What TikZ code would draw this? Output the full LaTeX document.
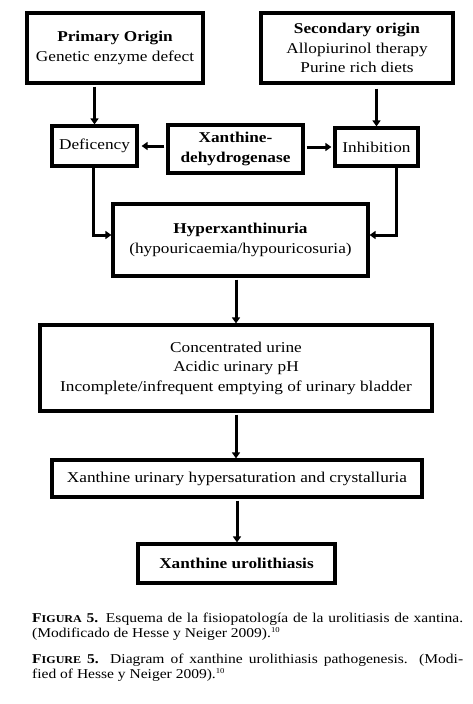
\documentclass[tikz,border=0pt]{standalone}
\usepackage{fontspec}
\setmainfont[FakeStretch=1.15]{Liberation Serif}
\usetikzlibrary{arrows.meta}
\newcommand{\refsup}{\textsuperscript{\fontsize{7.5}{8}\selectfont 10}}
\begin{document}
\begin{tikzpicture}[x=1pt,y=-1pt,
  box/.style={draw, line width=3.2pt, rectangle, inner sep=0pt, align=center,
    font=\fontsize{15}{19.5}\selectfont},
  arr/.style={line width=3pt, -{Triangle[length=6pt,width=8pt]}},
  caption/.style={anchor=north west, inner sep=0pt, text width=431pt, align=justify,
    font=\fontsize{13.5}{15}\selectfont}]
\useasboundingbox (0,0) rectangle (473,704);
\fill[white] (0,0) rectangle (473,704);

\node[box, minimum width=176pt, minimum height=70pt] (prim) at (115,48)
  {\textbf{Primary Origin}\\Genetic enzyme defect};
\node[box, minimum width=192pt, minimum height=70pt] (sec) at (357,48)
  {\textbf{Secondary origin}\\Allopiurinol therapy\\Purine rich diets};
\node[box, minimum width=85pt, minimum height=40pt] (def) at (94.5,146) {Deficency};
\node[box, minimum width=135pt, minimum height=48pt] (xdh) at (235.5,149)
  {\textbf{Xanthine-}\\\textbf{dehydrogenase}};
\node[box, minimum width=83pt, minimum height=38pt] (inh) at (376.5,147) {Inhibition};
\node[box, minimum width=255pt, minimum height=72pt] (hyp) at (240.5,240)
  {\textbf{Hyperxanthinuria}\\(hypouricaemia/hypouricosuria)};
\node[box, minimum width=392pt, minimum height=86pt] (conc) at (236,368)
  {Concentrated urine\\Acidic urinary pH\\Incomplete/infrequent emptying of urinary bladder};
\node[box, minimum width=370pt, minimum height=37pt] (xu) at (237,478.5)
  {Xanthine urinary hypersaturation and crystalluria};
\node[box, minimum width=197pt, minimum height=39pt] (xl) at (236.5,563.5)
  {\textbf{Xanthine urolithiasis}};

\draw[arr, shorten <=2pt] (def.north |- prim.south) -- (def.north);
\draw[arr, shorten <=4pt] (inh.north |- sec.south) -- (inh.north);
\draw[arr, shorten <=2pt, shorten >=3pt] (xdh.west |- def.east) -- (def.east);
\draw[arr, shorten <=2pt, shorten >=2pt] (xdh.east |- inh.west) -- (inh.west);
\draw[arr] ([xshift=-1.5pt]def.south) |- ([yshift=5pt]hyp.west);
\draw[arr] ([xshift=19.5pt]inh.south) |- ([yshift=5pt]hyp.east);
\draw[arr, shorten <=2pt] (conc.north |- hyp.south) -- (conc.north);
\draw[arr, shorten <=2pt] (conc.south) -- (conc.south |- xu.north);
\draw[arr, shorten <=2pt] (xu.south) -- (xu.south |- xl.north);

\node[caption] (cap1) at (32,613)
  {\textbf{F{\fontsize{10.5}{15}\selectfont IGURA} 5.} Esquema de la fisiopatología de la urolitiasis de xantina.\linebreak (Modificado de Hesse y Neiger 2009).\refsup};
\node[caption] (cap2) at (32,654)
  {\textbf{F{\fontsize{10.5}{15}\selectfont IGURE} 5.} Diagram of xanthine urolithiasis pathogenesis. (Modi-\linebreak fied of Hesse y Neiger 2009).\refsup};
\end{tikzpicture}
\end{document}
